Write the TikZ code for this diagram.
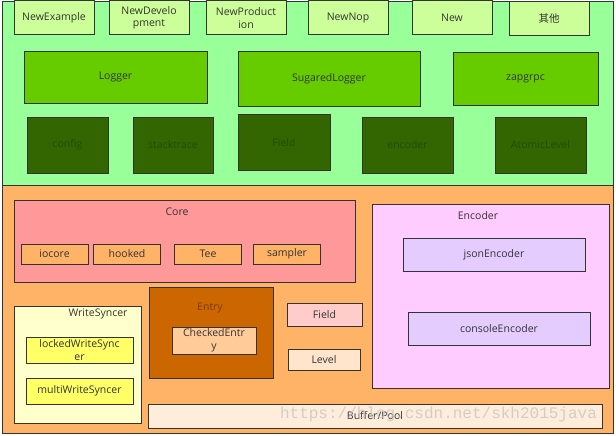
\documentclass[tikz,border=0pt]{standalone}
\usepackage{fontspec}
\setmainfont{Open Sans}
\newfontfamily\cjk{Noto Sans CJK SC}
\newfontfamily\wmfont{Liberation Mono}
\definecolor{bggreen}{RGB}{153,255,153}
\definecolor{lightlime}{RGB}{204,255,153}
\definecolor{lime}{RGB}{102,204,0}
\definecolor{darkleaf}{RGB}{51,102,0}
\definecolor{leaftext}{RGB}{36,74,0}
\definecolor{bgorange}{RGB}{255,179,102}
\definecolor{corepink}{RGB}{255,153,153}
\definecolor{paleyellow}{RGB}{255,255,204}
\definecolor{syncyellow}{RGB}{255,255,102}
\definecolor{entrybrown}{RGB}{204,102,0}
\definecolor{peach}{RGB}{255,204,153}
\definecolor{rose}{RGB}{255,204,204}
\definecolor{cream}{RGB}{255,229,204}
\definecolor{encpink}{RGB}{255,204,255}
\definecolor{lavender}{RGB}{229,204,255}
\definecolor{edge}{RGB}{51,51,51}
\usepackage{tikz}
\usetikzlibrary{positioning}

\tikzset{
  blk/.style={draw=edge,line width=1pt,inner sep=0pt,align=center,text=edge,
    font=\fontsize{10.5}{12.5}\selectfont},
  sz/.style 2 args={minimum width=#1pt,minimum height=#2pt},
  title/.style={text=edge,font=\fontsize{10.5}{12.5}\selectfont},
}

\begin{document}
\begin{tikzpicture}[x=1pt,y=-1pt]
  \useasboundingbox (0,0) rectangle (616,436);
  % two layers
  \draw[edge,line width=1pt,fill=bggreen] (2,2) rectangle (613,185);
  \draw[edge,line width=1pt,fill=bgorange] (2,185) rectangle (613,433);

  % constructors
  \node[blk,sz={80}{34},fill=lightlime] (newexample) at (54,18) {NewExample};
  \node[blk,sz={80}{34},fill=lightlime] (newdev) at (149,18) {NewDevelo\\pment};
  \node[blk,sz={80}{34},fill=lightlime] (newprod) at (246,18) {NewProduct\\ion};
  \node[blk,sz={80}{34},fill=lightlime] (newnop) at (348,18) {NewNop};
  \node[blk,sz={80}{34},fill=lightlime] (newplain) at (452,18) {New};
  \node[blk,sz={80}{34},fill=lightlime] (others) at (549,19) {\cjk 其他};

  % loggers
  \node[blk,sz={183}{51},fill=lime] (logger) at (115.5,77.5) {Logger};
  \node[blk,sz={182}{54},fill=lime] (sugared) at (329,79) {SugaredLogger};
  \node[blk,sz={145}{52},fill=lime] (zapgrpc) at (525.5,79) {zapgrpc};

  % helpers
  \foreach \nm/\cx/\cy/\w/\txt in {config/67.5/145/81/config,stacktrace/173/145/80/stacktrace,
      fieldtop/284/142.5/92/Field,encoder/407.5/145/91/encoder,atomiclevel/540.5/145/91/AtomicLevel}
    \node[blk,sz={\w}{56},fill=darkleaf,text=leaftext] (\nm) at (\cx,\cy) {\txt};

  % core
  \node[blk,sz={341}{82},fill=corepink,anchor=north west] (core) at (14,200) {};
  \node[title] (coretitle) at (177,212) {Core};
  \foreach \nm/\cx in {iocore/54.5,hooked/127,Tee/208,sampler/287}
    \node[blk,sz={67}{20},fill=bgorange] (\nm) at (\cx,254) {\nm};

  % write syncer
  \node[blk,sz={127}{117},fill=paleyellow,anchor=north west] (writesyncer) at (14,306) {};
  \node[title] (wstitle) at (98,314) {WriteSyncer};
  \node[blk,sz={107}{26},fill=syncyellow] (locked) at (79.5,350) {lockedWriteSync\\er};
  \node[blk,sz={107}{26},fill=syncyellow] (multi) at (79.5,391) {multiWriteSyncer};

  % entry
  \node[blk,sz={124}{91},fill=entrybrown,anchor=north west] (entry) at (149,287) {};
  \node[title,text=entrybrown!60!black] (entrytitle) at (210,308) {Entry};
  \node[blk,sz={84}{27},fill=peach] (checked) at (214,340.5) {CheckedEntr\\y};

  \node[blk,sz={75}{23},fill=rose] (field) at (324.5,314.5) {Field};
  \node[blk,sz={72}{21},fill=cream] (level) at (324,359.5) {Level};
  \node[blk,sz={454}{24},fill=cream!70!white] (bufferpool) at (375,416) {Buffer/Pool};

  % encoder
  \node[blk,sz={237}{184},fill=encpink,anchor=north west] (encoderbox) at (372,204) {};
  \node[title] (enctitle) at (478,216) {Encoder};
  \node[blk,sz={182}{33},fill=lavender] (json) at (494,254.5) {jsonEncoder};
  \node[blk,sz={182}{33},fill=lavender] (console) at (499,328.5) {consoleEncoder};

  \node[text=gray!45,opacity=0.8,font=\wmfont\fontsize{16}{16}\selectfont] (watermark)
    at (438.5,414) {https://blog.csdn.net/skh2015java};
\end{tikzpicture}
\end{document}
